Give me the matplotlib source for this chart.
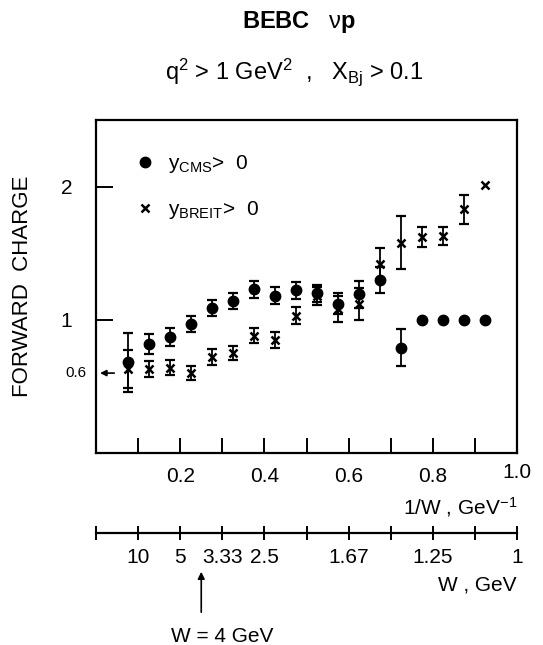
import numpy as np
import matplotlib.pyplot as plt
import matplotlib.transforms as mtransforms

plt.rcParams['font.family'] = ['Liberation Sans', 'DejaVu Sans']
plt.rcParams['mathtext.fontset'] = 'custom'
plt.rcParams['mathtext.rm'] = 'Liberation Sans'
plt.rcParams['mathtext.it'] = 'Liberation Sans'
plt.rcParams['mathtext.bf'] = 'Liberation Sans:bold'

# 1/W bin centres (GeV^-1)
inv_w = np.array([0.075, 0.125, 0.175, 0.225, 0.275, 0.325, 0.375, 0.425, 0.475,
                  0.525, 0.575, 0.625, 0.675, 0.725, 0.775, 0.825, 0.875, 0.925])

# forward charge, y_CMS > 0
fc_cms = np.array([0.68, 0.82, 0.87, 0.97, 1.09, 1.14, 1.23, 1.18, 1.22,
                   1.20, 1.12, 1.19, 1.30, 0.79, 1.00, 1.00, 1.00, 1.00])
fc_cms_err = np.array([0.22, 0.075, 0.07, 0.06, 0.06, 0.06, 0.065, 0.065, 0.065,
                       0.065, 0.08, 0.10, 0.10, 0.14, 0.0, 0.0, 0.0, 0.0])

# forward charge, y_BREIT > 0
fc_breit = np.array([0.63, 0.63, 0.64, 0.60, 0.72, 0.75, 0.88, 0.85, 1.03,
                     1.18, 1.08, 1.12, 1.42, 1.58, 1.62, 1.63, 1.83, 2.01])
fc_breit_err = np.array([0.14, 0.06, 0.056, 0.055, 0.058, 0.05, 0.055, 0.06, 0.063,
                         0.07, 0.10, 0.12, 0.12, 0.20, 0.075, 0.065, 0.11, 0.0])

x_ticks = [0.1, 0.2, 0.3, 0.4, 0.5, 0.6, 0.7, 0.8, 0.9]
x_labels = ['', '0.2', '', '0.4', '', '0.6', '', '0.8', '']
w_ticks = [0.0, 0.1, 0.2, 0.3, 0.4, 0.5, 0.6, 0.7, 0.8, 0.9, 1.0]
w_labels = ['', '10', '5', '3.33', '2.5', '', '1.67', '', '1.25', '', '1']
w_mark = 0.25  # W = 4 GeV

W, H = 543, 645
fig = plt.figure(figsize=(W / 100, H / 100), dpi=100)

left, right, top, bottom = 96, 517, 120, 453
ax = fig.add_axes([left / W, 1 - bottom / H, (right - left) / W, (bottom - top) / H])
ax.set_xlim(0, 1.0)
ax.set_ylim(0, 2.5)
for s in ax.spines.values():
    s.set_linewidth(1.6)

# error bars first, markers on top
m = fc_breit_err > 0
ax.errorbar(inv_w[m], fc_breit[m], yerr=fc_breit_err[m], fmt='none', ecolor='black',
            elinewidth=1.3, capsize=3.5, capthick=1.6)
m = fc_cms_err > 0
ax.errorbar(inv_w[m], fc_cms[m], yerr=fc_cms_err[m], fmt='none', ecolor='black',
            elinewidth=1.3, capsize=3.5, capthick=1.6)
ax.plot(inv_w, fc_breit, 'x', color='black', ms=6, mew=1.8, ls='none',
        label=r'$\mathrm{y}_{\mathrm{BREIT}}$>  0')
ax.plot(inv_w, fc_cms, 'o', color='black', ms=7.5, ls='none',
        label=r'$\mathrm{y}_{\mathrm{CMS}}$>  0')

h, l = ax.get_legend_handles_labels()
ax.legend(h[::-1], l[::-1], loc='upper left', bbox_to_anchor=(0.072, 0.925), frameon=False,
          fontsize=15, handlelength=1.0, handletextpad=0.6, labelspacing=1.15,
          borderaxespad=0)

ax.set_xticks(x_ticks)
ax.set_xticklabels(x_labels)
ax.set_yticks([1, 2])
ax.set_yticklabels(['1', '2'])
ax.tick_params(axis='x', direction='in', length=11, width=1.4, labelsize=15, pad=10)
ax.tick_params(axis='y', direction='in', length=12, width=1.4, labelsize=15, pad=17)

# end label of the 1/W axis sits at the right corner
ax.text(1.0, -20 / 333, '1.0', transform=ax.transAxes, ha='center', va='center',
        fontsize=15)

# 0.6 reference arrow on the y axis
ax.annotate('', xy=(0.003, 0.6), xytext=(0.05, 0.6),
            arrowprops=dict(arrowstyle='-|>', color='black', lw=1.2,
                            mutation_scale=9))
ax.text(-0.022, 0.6, '0.6', transform=ax.get_yaxis_transform(), ha='right',
        va='center', fontsize=11)

ax.set_ylabel('FORWARD  CHARGE', fontsize=16)
ax.yaxis.set_label_coords(-0.15, 0.5)

fig.text(right / W, 1 - 507 / H, r'1/W , GeV$^{-1}$', ha='right', va='center', fontsize=15)

# W scale below the 1/W axis
w_y = 533
ax2 = fig.add_axes([left / W, 1 - w_y / H, (right - left) / W, 0.0001])
ax2.set_xlim(0, 1.0)
ax2.set_yticks([])
for k in ['top', 'left', 'right']:
    ax2.spines[k].set_visible(False)
ax2.spines['bottom'].set_linewidth(1.6)
ax2.set_xticks(w_ticks)
ax2.set_xticklabels(w_labels)
ax2.tick_params(axis='x', direction='inout', length=10, width=1.4, labelsize=15, pad=6)
fig.text(right / W, 1 - 585 / H, 'W , GeV', ha='right', va='center', fontsize=15)

ax2.annotate('', xy=(w_mark, 1 - 569 / H), xytext=(w_mark, 1 - 615 / H),
             xycoords=('data', 'figure fraction'), textcoords=('data', 'figure fraction'),
             arrowprops=dict(arrowstyle='-|>', color='black', lw=1.2, mutation_scale=10))
wx_fig = mtransforms.blended_transform_factory(ax2.transData, fig.transFigure)
ax2.text(0.30, 1 - 636 / H, 'W = 4 GeV', transform=wx_fig,
         ha='center', va='center', fontsize=15)

fig.text(299 / W, 1 - 22 / H, r'BEBC   $\nu$p', ha='center', va='center',
         fontsize=17, fontweight='bold')
fig.text(294 / W, 1 - 72 / H, r'q$^2$ > 1 GeV$^2$  ,   X$_{\mathrm{Bj}}$ > 0.1',
         ha='center', va='center', fontsize=17)

fig.savefig('out.png', dpi=100)
